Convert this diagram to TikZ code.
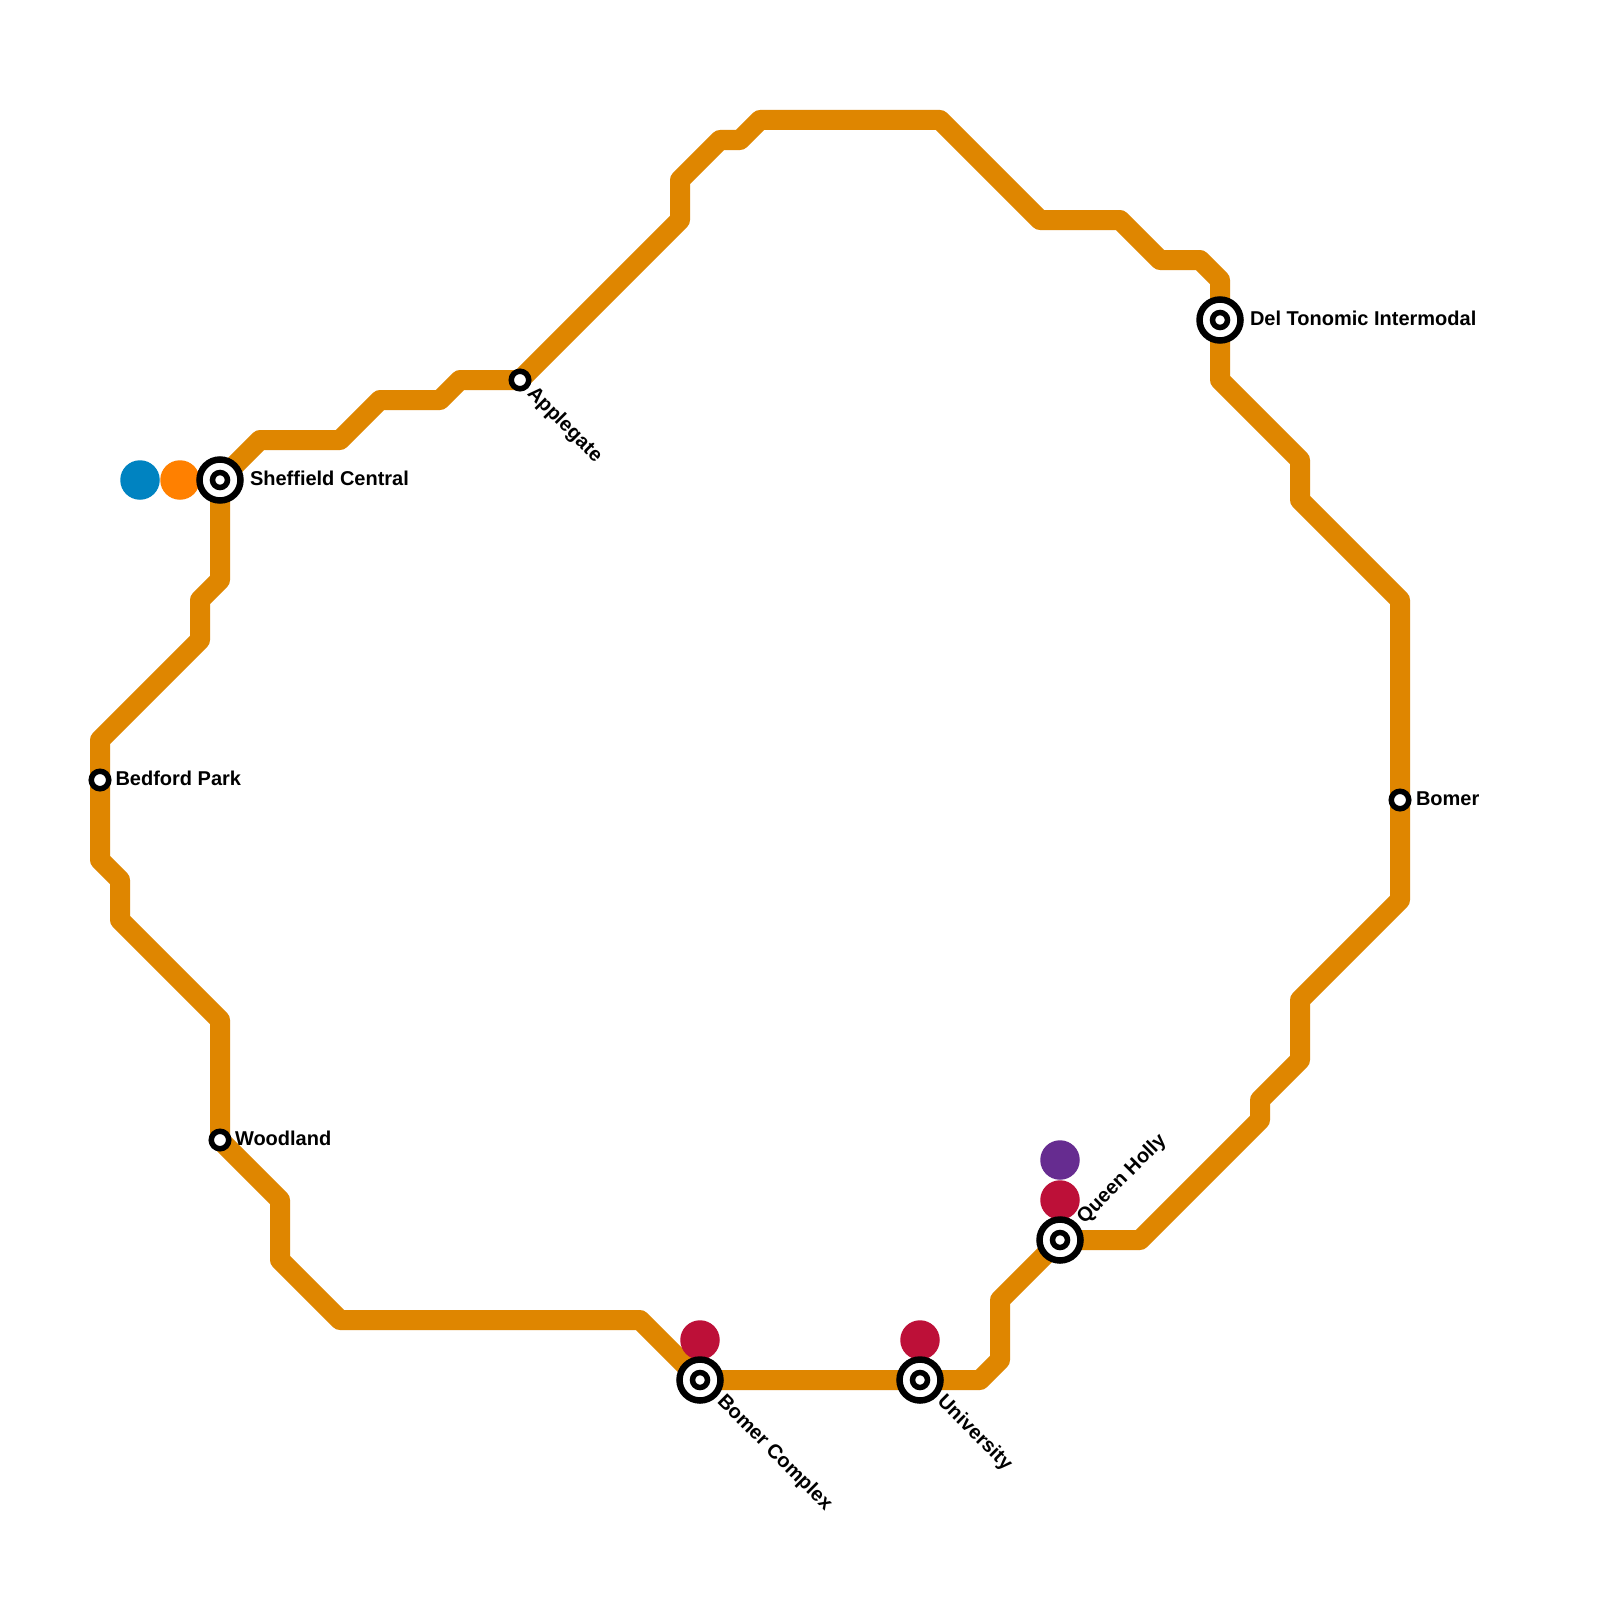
\documentclass[tikz,border=0pt]{standalone}
\usepackage{fontspec}
\setmainfont{Liberation Sans}
\definecolor{linecol}{HTML}{DF8600}
\definecolor{dotblue}{HTML}{0083C1}
\definecolor{dotorange}{HTML}{FF8000}
\definecolor{dotruby}{HTML}{BD1038}
\definecolor{dotpurple}{HTML}{662C90}
\tikzset{
  metro/.style={draw=linecol,line width=20pt,line join=round,line cap=round},
  chip/.style={circle,fill=#1,minimum size=39.5pt,inner sep=0pt,outer sep=0pt},
  major/.style={circle,draw=black,line width=6.5pt,fill=white,minimum size=41pt,inner sep=0pt,outer sep=0pt},
  majorcore/.style={circle,draw=black,line width=5.5pt,fill=white,minimum size=15pt,inner sep=0pt,outer sep=0pt},
  minor/.style={circle,draw=black,line width=5.5pt,fill=white,minimum size=17.5pt,inner sep=0pt,outer sep=0pt},
  stlabel/.style={inner sep=0pt,outer sep=0pt,font=\fontsize{20pt}{20pt}\selectfont\bfseries,text=black},
}
\begin{document}
\begin{tikzpicture}[x=1pt,y=-1pt]
\useasboundingbox (0,0) rectangle (1600,1600);
\fill[white] (0,0) rectangle (1600,1600);
% stations and bends
\coordinate (sheffield) at (220,480);
\coordinate (applegate) at (520,380);
\coordinate (deltonomic) at (1220,320);
\coordinate (bomer) at (1400,800);
\coordinate (queen) at (1060,1240);
\coordinate (university) at (920,1380);
\coordinate (complex) at (700,1380);
\coordinate (woodland) at (220,1140);
\coordinate (bedford) at (100,780);
\foreach \n/\x/\y in {a/260/440,b/340/440,c/380/400,d/440/400,e/460/380,
  f/680/220,g/680/180,h/720/140,i/740/140,j/760/120,k/940/120,l/1040/220,m/1120/220,n/1160/260,o/1200/260,p/1220/280,
  q/1220/380,r/1300/460,s/1300/500,t/1400/600,u/1400/900,v/1300/1000,w/1300/1060,x/1260/1100,y/1260/1120,z/1140/1240,
  aa/1000/1300,ab/1000/1360,ac/980/1380,ad/640/1320,ae/340/1320,af/280/1260,ag/280/1200,ah/220/1020,ai/120/920,aj/120/880,ak/100/860,al/100/740,am/200/640,an/200/600,ao/220/580}
  {\coordinate (\n) at (\x,\y);}
\draw[metro] (sheffield)--(a)--(b)--(c)--(d)--(e)--(applegate)--(f)--(g)--(h)--(i)--(j)--(k)--(l)--(m)--(n)--(o)--(p)--(deltonomic)--(q)--(r)--(s)--(t)--(bomer)--(u)--(v)--(w)--(x)--(y)--(z)--(queen)--(aa)--(ab)--(ac)--(university)--(complex)--(ad)--(ae)--(af)--(ag)--(woodland)--(ah)--(ai)--(aj)--(ak)--(bedford)--(al)--(am)--(an)--(ao)--cycle;
% line badges
\node[chip=dotblue] (bblue) at (140,480) {};
\node[chip=dotorange] (borange) at (180,480) {};
\node[chip=dotruby] (bcomplex) at (700,1340) {};
\node[chip=dotruby] (buniv) at (920,1340) {};
\node[chip=dotruby] (bqueen) at (1060,1200) {};
\node[chip=dotpurple] (bqueenb) at (1060,1160) {};
% interchange markers
\foreach \s in {sheffield,deltonomic,queen,university,complex}{
  \node[major] (\s ring) at (\s) {};
  \node[majorcore] (\s core) at (\s) {};
}
\foreach \s in {applegate,bomer,woodland,bedford}{
  \node[minor] (\s mark) at (\s) {};
}
% labels
\node[stlabel,anchor=base west] (lsheffield) at (250,485) {Sheffield Central};
\node[stlabel,anchor=base west] (ldel) at (1250,325) {Del Tonomic Intermodal};
\node[stlabel,anchor=base west] (lbomer) at (1416,805) {Bomer};
\node[stlabel,anchor=base west] (lbedford) at (115.5,785) {Bedford Park};
\node[stlabel,anchor=base west] (lwoodland) at (235,1145) {Woodland};
\node[stlabel,anchor=base west,rotate=-45] (lapplegate) at (526.5,394.5) {Applegate};
\node[stlabel,anchor=base west,rotate=-45] (lcomplex) at (716.5,1402.5) {Bomer Complex};
\node[stlabel,anchor=base west,rotate=-45] (luniv) at (936.5,1402.5) {University};
\node[stlabel,anchor=base west,rotate=45] (lqueen) at (1084.5,1224) {Queen Holly};
\end{tikzpicture}
\end{document}
